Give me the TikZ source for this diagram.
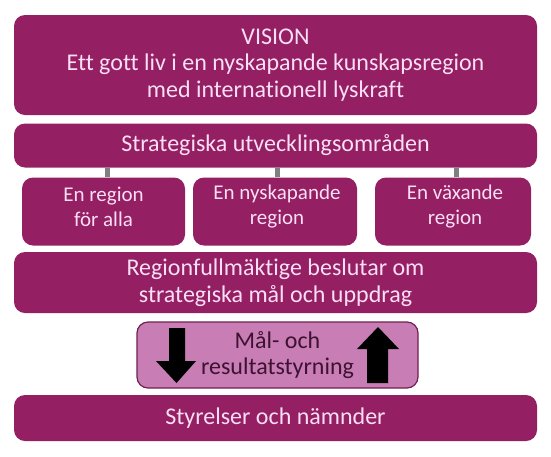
\documentclass[tikz,border=0pt]{standalone}
\usepackage{fontspec}
\setmainfont{Carlito}[Ligatures=NoCommon]
\definecolor{mag}{RGB}{148,31,98}
\definecolor{pinktext}{RGB}{250,222,245}
\definecolor{lightfill}{RGB}{200,125,180}
\definecolor{lightborder}{RGB}{112,32,82}
\definecolor{darktext}{RGB}{62,18,50}
\definecolor{conn}{RGB}{128,128,128}
\begin{document}
\begin{tikzpicture}[x=1pt,y=-1pt,
  box/.style={fill=mag, draw=none, rounded corners=11pt, text=pinktext, align=center, inner sep=0pt,
    font=\fontsize{24}{26.5}\selectfont},
  subbox/.style={box, font=\fontsize{21}{25}\selectfont},
  midbox/.style={fill=lightfill, draw=lightborder, line width=1.2pt, rounded corners=11pt, text=darktext,
    align=center, inner sep=0pt, font=\fontsize{24}{25.5}\selectfont},
  link/.style={draw=conn, line width=5pt},
  bigarrow/.style={fill=black, draw=none}]
\useasboundingbox (0,0) rectangle (551,456);
\node[box, minimum width=523pt, minimum height=100pt] (vision) at (275.5,65)
  {VISION\\Ett gott liv i en nyskapande kunskapsregion\\med internationell lyskraft};
\node[box, minimum width=523pt, minimum height=44pt] (strat) at (275.5,145.5)
  {Strategiska utvecklingsområden};
\node[subbox, minimum width=163pt, minimum height=68pt] (b1) at (103.5,211.5) {};
\node[subbox, minimum width=164pt, minimum height=68pt] (b2) at (275,211.5) {};
\node[subbox, minimum width=156pt, minimum height=68pt] (b3) at (453,211.5) {};
\node[subbox] (t1) at (103.5,207) {En region\\för alla};
\node[subbox] (t2) at (277,207) {En nyskapande\\region};
\node[subbox] (t3) at (455,207) {En växande\\region};
\draw[link] ([xshift=4pt]strat.south -| b1.north) -- ([xshift=4pt]b1.north);
\draw[link] ([xshift=2.5pt]strat.south -| b2.north) -- ([xshift=2.5pt]b2.north);
\draw[link] ([xshift=3pt]strat.south -| b3.north) -- ([xshift=3pt]b3.north);
\node[box, minimum width=523pt, minimum height=61pt] (rf) at (275.5,282.5)
  {Regionfullmäktige beslutar om\\strategiska mål och uppdrag};
\node[midbox, minimum width=281pt, minimum height=66pt] (mal) at (277.5,355)
  {Mål- och\\resultatstyrning};
\node[box, minimum width=523pt, minimum height=46pt] (styr) at (275.5,418)
  {Styrelser och nämnder};
% down arrow
\fill[bigarrow] (169,328) -- (185,328) -- (185,361) -- (196,361) -- (176.5,383) -- (156,361) -- (169,361) -- cycle;
% up arrow
\fill[bigarrow] (367,383) -- (388,383) -- (388,349) -- (399,349) -- (378,327) -- (357,349) -- (367,349) -- cycle;
\end{tikzpicture}
\end{document}
